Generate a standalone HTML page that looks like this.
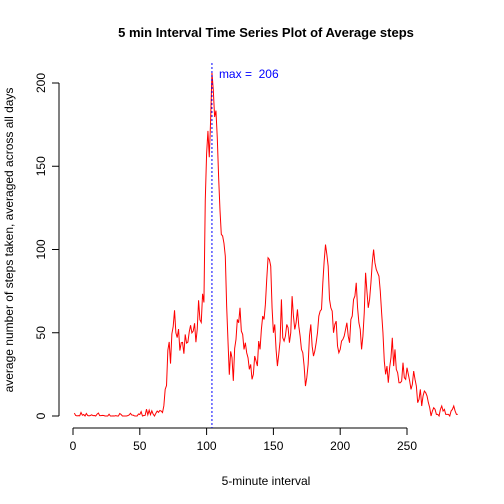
<!DOCTYPE html>
<html><head><meta charset="utf-8"><style>body{margin:0;background:#fff}svg{display:block;font-family:"Liberation Sans",Arial,sans-serif}text{white-space:pre}</style></head>
<body>
<svg id="c" width="504" height="504"></svg>
<script>
const xTicks=[0,50,100,150,200,250];
const yTicks=[0,50,100,150,200];
const maxLabel="max =  206";
const steps=[1.7,0.3,0.1,0.2,0.1,2.1,0.5,0.9,0,1.5,0.3,0.1,0.3,0.7,0.2,0.3,0,1.1,1.8,0.2,0.2,0.4,0.3,0,0,0,1.1,0,0,0.1,0,0.2,0,0,1.5,0.9,0,0,0,0,0.2,0.6,1.6,0.6,0.5,0.1,0,0,1.2,0.9,2.6,0,0.3,0.4,4.1,0.7,3.5,0.8,3.1,1.1,0,1.6,3,2.2,3.3,3,2.1,6.1,16,18.3,39.5,44.5,31.5,49.3,53.8,63.5,50,47.1,52.2,39.3,44,44.2,37.4,49,43.8,44.4,50.5,54.5,49.9,51,55.7,44.3,52.3,69.5,57.8,56.2,73.4,68.2,129.4,157.5,171.2,155.4,177.3,206.2,195.9,179.6,183.4,167,143.5,124,109.1,108.1,103.7,96,66.2,45.2,24.8,38.8,35,21.1,40.6,
46,58,56,65,51,49,40,44,38,35,28,31,22,25,36,33,30,45,40,
52,60,58,67,82,95,94,90,65,50,
55,40,30,37,45,70,47,45,48,55,53,44,50,72,60,
52,56,64,54,48,40,38,30,18,23,31,48,55,42,36,39,44,50,60,63,64,80,93,103,97,90,70,65,63,50,55,57,42,38,40,45,46,48,52,56,48,44,58,60,70,72,80,65,56,52,40,48,62,86,75,65,70,80,92,100,92,88,86,84,75,62,50,33,25,30,20,29,35,47,30,40,28,26,20,20,21,32,23,22,29,25,21,16,19,27,22,18,8,10,16,6,12,15,14,12,8,5,0,3,5,4,1,1,0,4,6,3,4,1,1,1,0,3,4,6,3,1,1];
const NS="http://www.w3.org/2000/svg",svg=document.getElementById('c');
const X=v=>73+v*1.336, Y=v=>416-v*1.665;
function mk(t,a,txt){const e=document.createElementNS(NS,t);for(const k in a)e.setAttribute(k,a[k]);if(txt!=null)e.textContent=txt;svg.appendChild(e);return e;}
let e;
e=mk('text',{x:266,y:37,'text-anchor':'middle','font-size':13,'font-weight':'bold'},'5 min Interval Time Series Plot of Average steps');

e=mk('text',{x:266,y:485,'text-anchor':'middle','font-size':12},'5-minute interval');

e=mk('text',{x:13,y:240,'text-anchor':'middle','font-size':12,transform:'rotate(-90 13 240)'},'average number of steps taken, averaged across all days');

e=mk('line',{x1:X(xTicks[0]),x2:X(xTicks[xTicks.length-1]),y1:428,y2:428,stroke:'#000'});

xTicks.forEach(t=>{mk('line',{x1:X(t),x2:X(t),y1:428,y2:435,stroke:'#000'});
 e=mk('text',{x:X(t),y:450,'text-anchor':'middle','font-size':12},t);
 });
e=mk('line',{x1:59,x2:59,y1:Y(yTicks[0]),y2:Y(yTicks[yTicks.length-1]),stroke:'#000'});

yTicks.forEach(t=>{mk('line',{x1:52,x2:59,y1:Y(t),y2:Y(t),stroke:'#000'});
 e=mk('text',{x:45,y:Y(t),'text-anchor':'middle','font-size':12,transform:`rotate(-90 45 ${Y(t)})`},t);
 });
e=mk('polyline',{points:steps.map((v,i)=>X(i+1)+','+Y(v)).join(' '),fill:'none',stroke:'#f00','stroke-width':1});

const mi=steps.indexOf(Math.max(...steps))+1;
e=mk('line',{x1:X(mi),x2:X(mi),y1:63,y2:428,stroke:'#00f','stroke-dasharray':'2,2'});

e=mk('text',{x:X(mi)+7,y:78,'font-size':12,fill:'#00f'},maxLabel);

</script>
</body></html>
